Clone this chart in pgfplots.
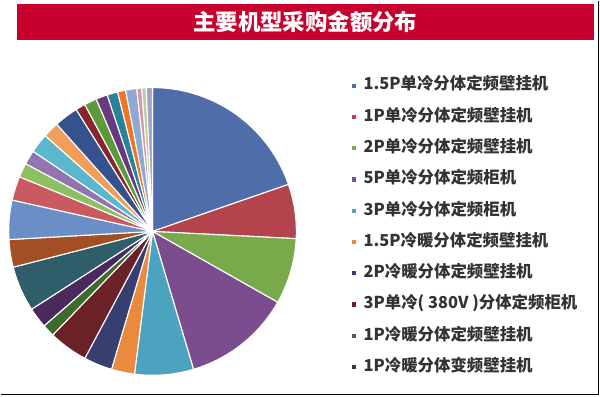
\documentclass[border=0pt]{standalone}
\usepackage{pgfplots}
\pgfplotsset{compat=1.18}
\usepackage{fontspec}
\setmainfont{Liberation Sans}
\newfontfamily\cjk{Noto Sans CJK SC}
\definecolor{banner}{HTML}{C8002D}
\definecolor{legtext}{HTML}{333333}
\definecolor{c1}{HTML}{4E6DA9}
\definecolor{c2}{HTML}{B4434E}
\definecolor{c3}{HTML}{78AA4C}
\definecolor{c4}{HTML}{7B4D8F}
\definecolor{c5}{HTML}{4BA3BF}
\definecolor{c6}{HTML}{EA8A3E}
\definecolor{c7}{HTML}{363F70}
\definecolor{c8}{HTML}{6A2127}
\definecolor{c9}{HTML}{3E6B2C}
\definecolor{c10}{HTML}{4A2A5C}
\definecolor{c11}{HTML}{2F5D6A}
\definecolor{c12}{HTML}{A44E24}
\definecolor{c13}{HTML}{6A8FC6}
\definecolor{c14}{HTML}{C85A60}
\definecolor{c15}{HTML}{8EBF62}
\definecolor{c16}{HTML}{9474AE}
\definecolor{c17}{HTML}{5AB7CD}
\definecolor{c18}{HTML}{F09E5A}
\definecolor{c19}{HTML}{35528E}
\definecolor{c20}{HTML}{88262F}
\definecolor{c21}{HTML}{5B9A3B}
\definecolor{c22}{HTML}{67397E}
\definecolor{c23}{HTML}{2C8299}
\definecolor{c24}{HTML}{EE7521}
\definecolor{c25}{HTML}{8EA9D2}
\definecolor{c26}{HTML}{D29AA2}
\definecolor{c27}{HTML}{B8D39A}
\definecolor{c28}{HTML}{A79FCB}
\newcommand\cum{0}
% #1 = share in percent, #2 = colour
\newcommand\pieslice[2]{%
  \pgfmathsetmacro\sa{90-3.6*\cum}%
  \pgfmathsetmacro\ea{90-3.6*(\cum+#1)}%
  \pgfmathsetmacro\newcum{\cum+#1}%
  \xdef\cum{\newcum}%
  \edef\doslice{\noexpand\addplot[fill=#2, draw=white, line width=1.1bp, line join=round, domain=\ea:\sa, samples=60, variable=\noexpand\t] ({152+144*cos(\noexpand\t)},{165+144*sin(\noexpand\t)}) -- (axis cs:152,165) -- cycle;}%
  \doslice}
\begin{document}
\begin{tikzpicture}
\begin{axis}[
  width=600bp, height=396bp, scale only axis,
  xmin=0, xmax=600, ymin=0, ymax=396,
  hide axis, clip=false,
  legend image code/.code={\fill (0bp,-2.7bp) rectangle (5.4bp,2.7bp); \path (12bp,0bp);},
  legend cell align=left,
  legend style={draw=none, fill=none, at={(axis cs:350,318.5)}, anchor=north west,
    font=\cjk\bfseries\fontsize{16.5}{16.5}\selectfont, text=legtext,
    row sep=16.6bp, inner sep=0pt,
    nodes={inner sep=0pt, text height=11.7bp, text depth=3bp}},
]
\path (axis cs:0,0) rectangle (axis cs:600,396);
\fill[banner] (axis cs:16,393) rectangle (axis cs:594,357);
\node[text=white, font=\cjk\bfseries\fontsize{22.5}{22.5}\selectfont] at (axis cs:305,375) {主要机型采购金额分布};
\draw[black, line width=1.4bp] (axis cs:0,2) -- (axis cs:598.5,2) -- (axis cs:598.5,396);
\pieslice{19.7}{c1}\addlegendentry{1.5P单冷分体定频壁挂机}
\pieslice{6.1}{c2}\addlegendentry{1P单冷分体定频壁挂机}
\pieslice{7.4}{c3}\addlegendentry{2P单冷分体定频壁挂机}
\pieslice{12.2}{c4}\addlegendentry{5P单冷分体定频柜机}
\pieslice{6.6}{c5}\addlegendentry{3P单冷分体定频柜机}
\pieslice{2.6}{c6}\addlegendentry{1.5P冷暖分体定频壁挂机}
\pieslice{3.2}{c7}\addlegendentry{2P冷暖分体定频壁挂机}
\pieslice{4.4}{c8}\addlegendentry{3P单冷( 380V )分体定频柜机}
\pieslice{1.4}{c9}\addlegendentry{1P冷暖分体定频壁挂机}
\pieslice{2.3}{c10}\addlegendentry{1P冷暖分体变频壁挂机}
\pieslice{5.1}{c11}
\pieslice{3.1}{c12}
\pieslice{4.4}{c13}
\pieslice{2.7}{c14}
\pieslice{1.6}{c15}
\pieslice{1.6}{c16}
\pieslice{2.2}{c17}
\pieslice{1.8}{c18}
\pieslice{2.7}{c19}
\pieslice{1.1}{c20}
\pieslice{1.4}{c21}
\pieslice{1.3}{c22}
\pieslice{1.2}{c23}
\pieslice{0.9}{c24}
\pieslice{1.25}{c25}
\pieslice{0.55}{c26}
\pieslice{0.5}{c27}
\pieslice{0.7}{c28}
\end{axis}
\end{tikzpicture}
\end{document}
